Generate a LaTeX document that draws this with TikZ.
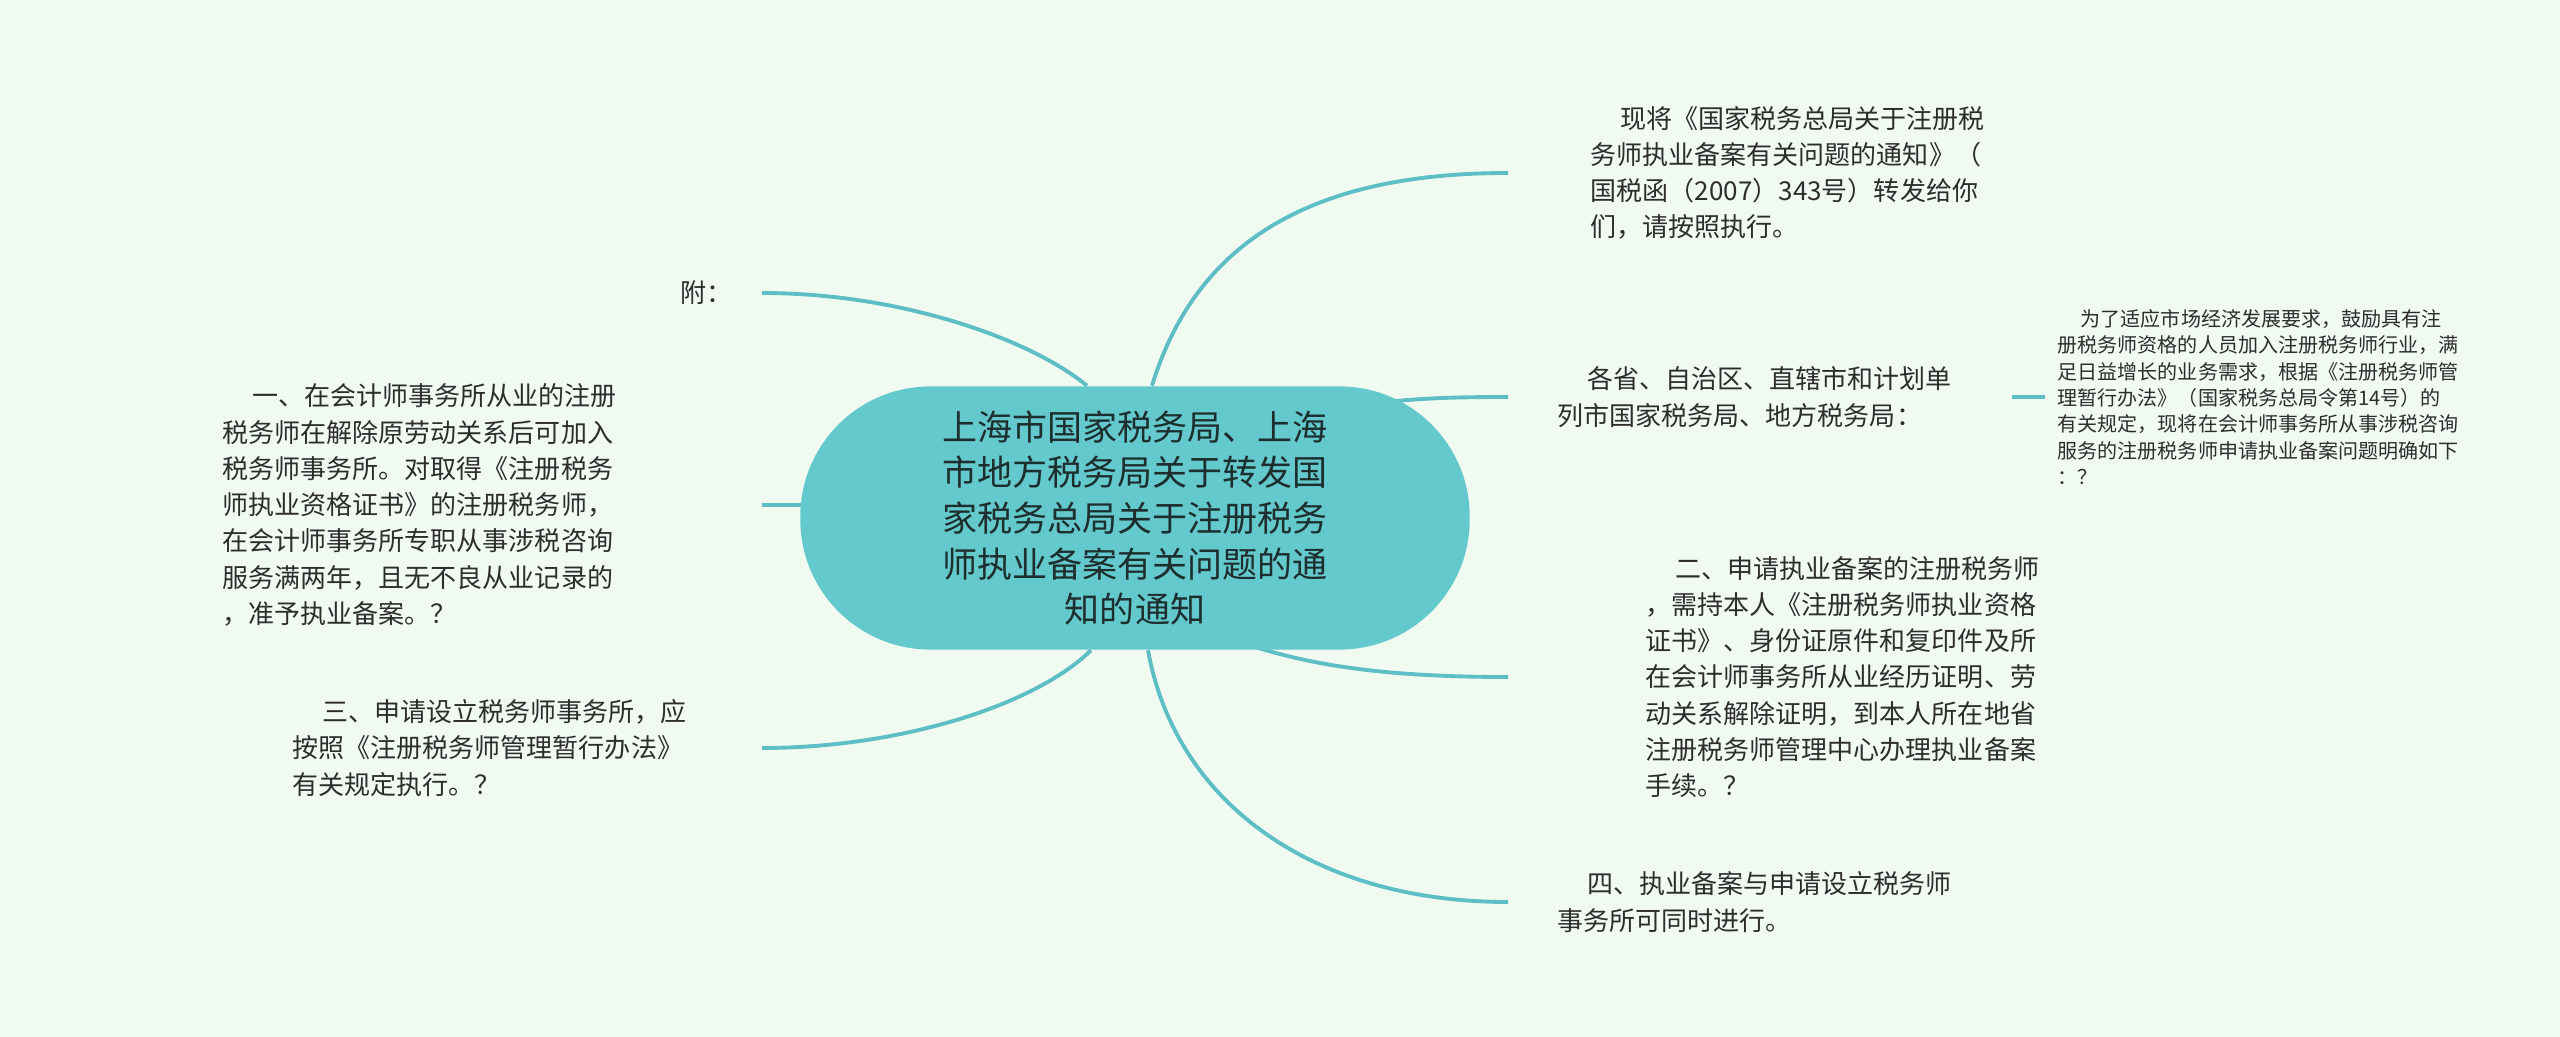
\documentclass[tikz,border=0pt]{standalone}
\usepackage{fontspec}
\setmainfont{Noto Sans CJK SC}
\usetikzlibrary{calc,backgrounds}
\definecolor{bgmint}{RGB}{240,250,241}
\definecolor{pillteal}{RGB}{99,201,204}
\definecolor{branchteal}{RGB}{94,190,198}
\definecolor{leaftext}{RGB}{45,45,45}
\definecolor{pilltext}{RGB}{30,45,45}

\begin{document}
\begin{tikzpicture}[x=0.01cm, y=-0.01cm,
	root/.style={rectangle, rounded corners=1.3cm, minimum width=6.69cm, minimum height=2.63cm, inner sep=0pt, fill=pillteal, align=center, text=pilltext, font=\fontsize{9.96pt}{13pt}\selectfont},
	leaf/.style={anchor=west, inner sep=0pt, align=left, text=leaftext, font=\fontsize{7.4pt}{10.3pt}\selectfont},
	note/.style={leaf, font=\fontsize{5.7pt}{7.5pt}\selectfont},
	branch/.style={draw=branchteal, line width=1.1pt}]
	\def \firstin {\hspace*{1.15em}}
	\useasboundingbox (0,0) rectangle (2560,1037);

	\coordinate (rx) at (1508,0);
	\coordinate (lx) at (762,0);

	\node[root] (root) at (1135,518) {上海市国家税务局、上海\\市地方税务局关于转发国\\家税务总局关于注册税务\\师执业备案有关问题的通\\知的通知};

	\node[leaf] (forward) at (1590,173) {\firstin 现将《国家税务总局关于注册税\\务师执业备案有关问题的通知》（\\国税函（2007）343号）转发给你\\们，请按照执行。};
	\node[leaf] (addressee) at (1557,397) {\firstin 各省、自治区、直辖市和计划单\\列市国家税务局、地方税务局：};
	\node[leaf] (itemtwo) at (1645,677) {\firstin 二、申请执业备案的注册税务师\\，需持本人《注册税务师执业资格\\证书》、身份证原件和复印件及所\\在会计师事务所从业经历证明、劳\\动关系解除证明，到本人所在地省\\注册税务师管理中心办理执业备案\\手续。？};
	\node[leaf] (itemfour) at (1557,902) {\firstin 四、执业备案与申请设立税务师\\事务所可同时进行。};
	\node[note] (preface) at (2057,397) {\firstin 为了适应市场经济发展要求，鼓励具有注\\册税务师资格的人员加入注册税务师行业，满\\足日益增长的业务需求，根据《注册税务师管\\理暂行办法》（国家税务总局令第14号）的\\有关规定，现将在会计师事务所从事涉税咨询\\服务的注册税务师申请执业备案问题明确如下\\：？};

	\node[leaf] (annex) at (680,293) {附：};
	\node[leaf] (itemone) at (222,505) {\firstin 一、在会计师事务所从业的注册\\税务师在解除原劳动关系后可加入\\税务师事务所。对取得《注册税务\\师执业资格证书》的注册税务师，\\在会计师事务所专职从事涉税咨询\\服务满两年，且无不良从业记录的\\，准予执业备案。？};
	\node[leaf] (itemthree) at (292,748) {\firstin 三、申请设立税务师事务所，应\\按照《注册税务师管理暂行办法》\\有关规定执行。？};

	\begin{scope}[on background layer]
		\fill[bgmint] (0,0) rectangle (2560,1037);

		\draw[branch] ($(root.north)+(17,0)$) .. controls +(48,-157) and +(-178,0) .. (rx |- forward.west);
		\draw[branch] ($(root.north east)+(-170,35)$) .. controls +(60,-22) and +(-70,0) .. (rx |- addressee.west);
		\draw[branch] ($(root.south)+(115,-5)$) .. controls +(70,23) and +(-108,0) .. (rx |- itemtwo.west);
		\draw[branch] ($(root.south)+(13,0)$) .. controls +(27,150) and +(-198,0) .. (rx |- itemfour.west);
		\draw[branch] ($(addressee.east)+(59,0)$) -- ($(preface.west)+(-12,0)$);

		\draw[branch] ($(root.north)+(-48,0)$) .. controls +(-57,-47) and +(138,0) .. (lx |- annex.east);
		\draw[branch] (root.west |- itemone.east) ++(40,0) -- (lx |- itemone.east);
		\draw[branch] ($(root.south)+(-44,0)$) .. controls +(-56,55) and +(138,0) .. (lx |- itemthree.east);
	\end{scope}
\end{tikzpicture}
\end{document}
